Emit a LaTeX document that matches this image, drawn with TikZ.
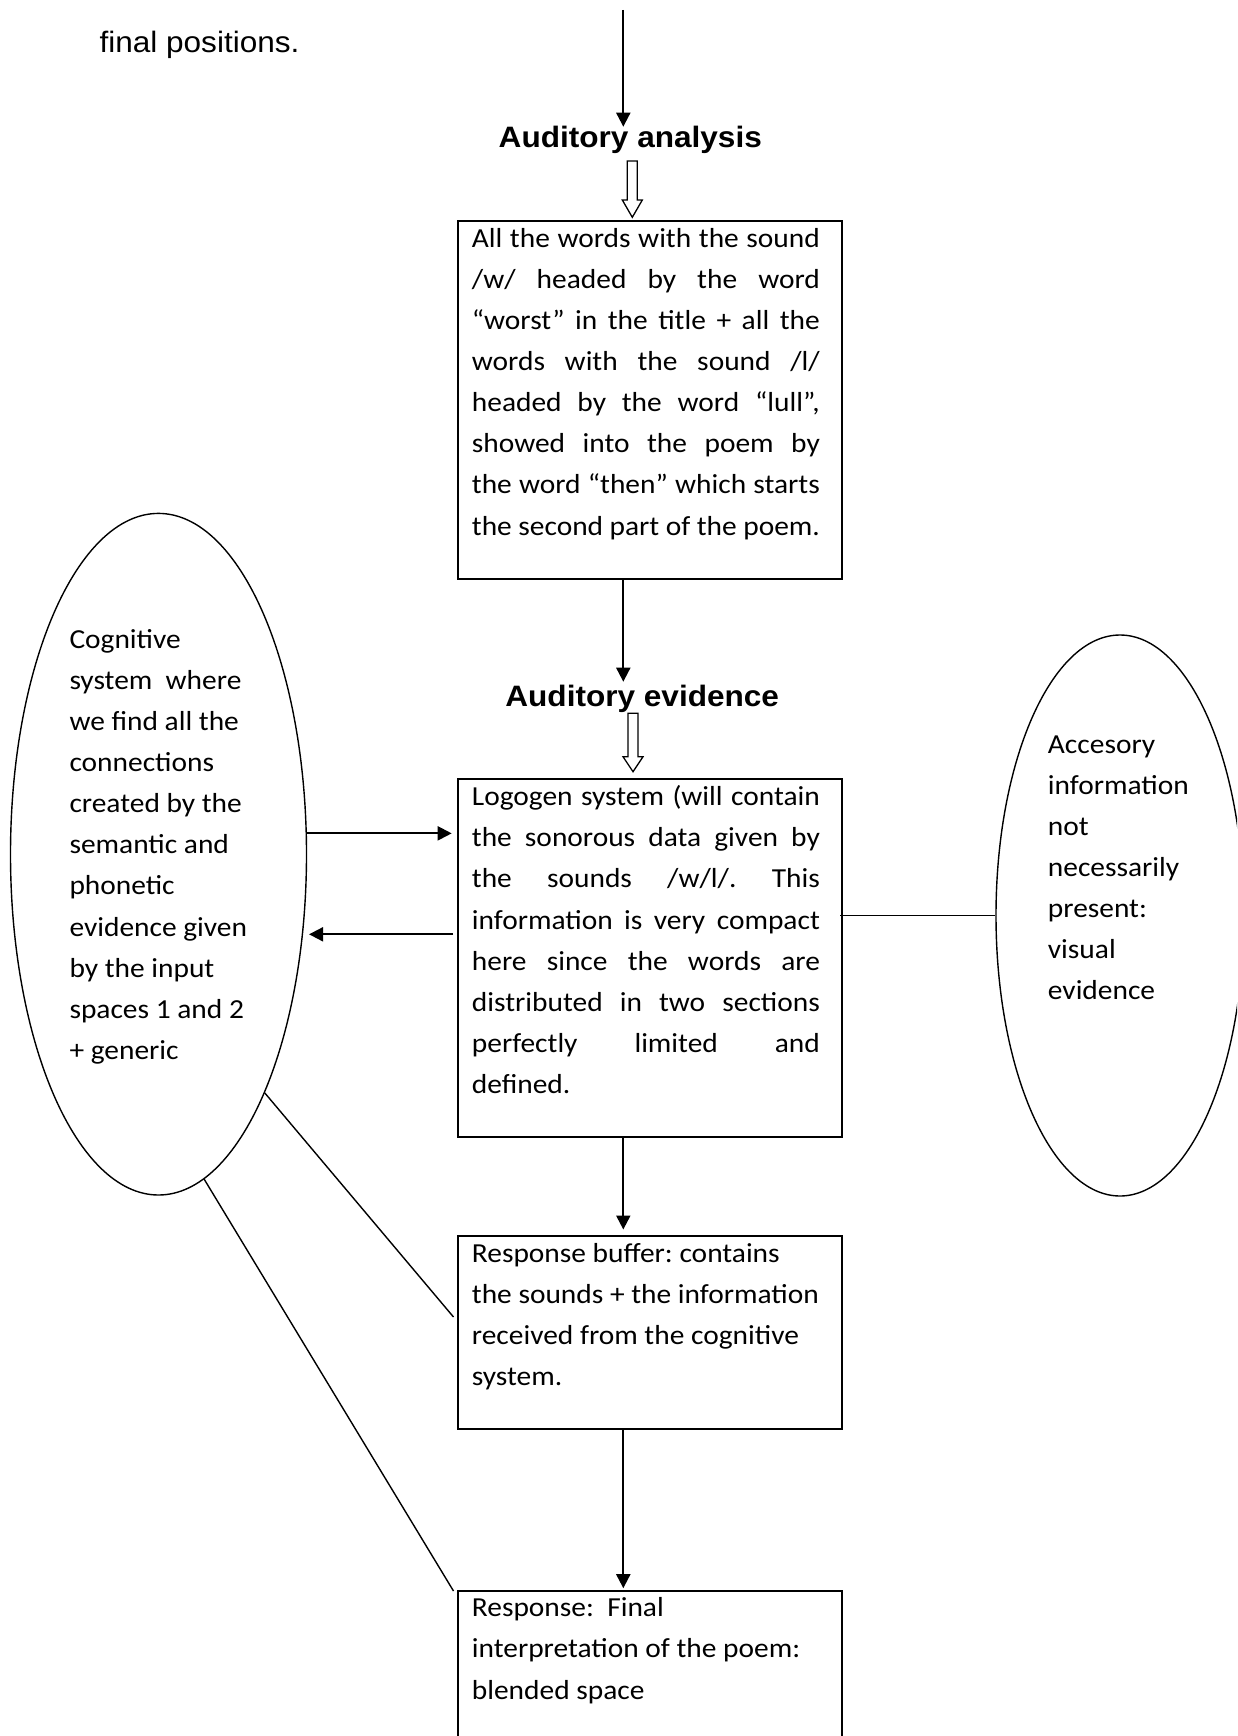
\documentclass[tikz,border=0pt]{standalone}
\usepackage{fontspec}
\setmainfont{Carlito}[FakeStretch=1.07]
\newfontfamily\arialfont{Liberation Sans}[FakeStretch=1.07]
\usetikzlibrary{arrows.meta,shapes.geometric,calc}

% width of the justified text inside the flow boxes
\newlength\jw
\setlength\jw{348pt}
\newcommand\jline[1]{\makebox[\jw][s]{#1}}
% the font's own interword spacing, no hyphenation
\newcommand\natsp{\frenchspacing\spaceskip=0pt\relax\xspaceskip=0pt\relax\hyphenpenalty=10000\relax}
\newcommand\boxfont{\fontsize{27.5pt}{41.1pt}\selectfont}
\newcommand\headfont{\arialfont\bfseries\fontsize{29.5pt}{36pt}\selectfont}
\newcommand\notefont{\arialfont\fontsize{29.5pt}{36pt}\selectfont}
% hollow block arrow pointing down: start point, shaft length, head length
\newcommand\hollowdown[3]{%
  \draw[hollow] (#1) ++(-5,0) -- ++(0,#2) -- ++(-5,0) -- ++(10,#3)
    -- ++(10,-#3) -- ++(-5,0) -- ++(0,-#2) -- cycle;}

\begin{document}
\begin{tikzpicture}[x=1pt, y=-1pt,
  stepbox/.style={draw, line width=2pt, rectangle, inner sep=0pt, minimum width=384.6pt},
  oval/.style={draw, line width=1.4pt, ellipse, inner sep=0pt},
  boxtext/.style={font=\boxfont, anchor=base west, inner sep=0pt, text width=#1, align=left},
  boxtext/.default=348pt,
  heading/.style={font=\headfont, anchor=base, inner sep=0pt},
  arr/.style={line width=2pt, -{Triangle[width=14pt,length=14pt]}},
  link/.style={line width=1.4pt},
  hollow/.style={line width=1.3pt, line join=miter}
]
\useasboundingbox (0,0) rectangle (1237,1736);
\fill[white] (0,0) rectangle (1237,1736);
\clip (0,0) rectangle (1237,1736);

% running text above the chart
\node[anchor=base west, inner sep=0pt, font=\notefont] (note) at (99.3,53) {final positions.};

% stage headings
\node[heading] (hA) at (630.3,148) {Auditory analysis};
\node[heading] (hE) at (642.2,706.7) {Auditory evidence};

% flow boxes
\node[stepbox, minimum height=358.3pt] (box1) at (650,399.85) {};
\node[stepbox, minimum height=357.4pt] (box2) at (650,958) {};
\node[stepbox, minimum height=192.5pt] (box3) at (650,1332.55) {};
\node[stepbox, minimum height=209.2pt] (box4) at (650,1695.4) {};

% side systems
\node[oval, minimum width=296pt, minimum height=681.6pt] (cog) at (158.5,854.2) {};
\node[oval, minimum width=248pt, minimum height=561pt] (acc) at (1120,915.5) {};

% box texts
\node[boxtext] (t1) at ($(box1.north west)+(15,27.6)$) {\natsp
\jline{All the words with the sound}\\
\jline{/w/ headed by the word}\\
\jline{“worst” in the title + all the}\\
\jline{words with the sound /l/}\\
\jline{headed by the word “lull”,}\\
\jline{showed into the poem by}\\
\jline{the word “then” which starts}\\
the second part of the poem.};

\node[boxtext] (t2) at ($(box2.north west)+(15,27.4)$) {\natsp
\jline{Logogen system (will contain}\\
\jline{the sonorous data given by}\\
\jline{the sounds /w/l/. This}\\
\jline{information is very compact}\\
\jline{here since the words are}\\
\jline{distributed in two sections}\\
\jline{perfectly limited and}\\
defined.};

\node[boxtext] (t3) at ($(box3.north west)+(15,27.1)$) {\natsp
Response buffer: contains\\
the sounds + the information\\
received from the cognitive\\
system.};

\node[boxtext] (t4) at ($(box4.north west)+(15,27)$) {\natsp
Response:\ \ Final\\
interpretation of the poem:\\
blended space};

\node[boxtext=240pt] (t5) at (69.3,648.3) {\natsp
Cognitive\\
system\ \ where\\
we find all the\\
connections\\
created by the\\
semantic and\\
phonetic\\
evidence given\\
by the input\\
spaces 1 and 2\\
+ generic};

\node[boxtext=200pt] (t6) at (1047.7,753) {\natsp
Accesory\\
information\\
not\\
necessarily\\
present:\\
visual\\
evidence};

% spine points
\coordinate (ax) at (623.3,0);
\coordinate (src) at (623.3,10);
\coordinate (aIn) at (623.3,126.7);
\coordinate (eIn) at (623.3,681.7);
\coordinate (h1) at (632.3,161);
\coordinate (h2) at (633,713.3);
\coordinate (b3in) at (453.5,1317);
\coordinate (b4in) at (453.5,1591);

% main flow
\draw[arr] (src) -- (aIn);
\hollowdown{h1}{39}{17.3}
\draw[arr] (box1.south -| ax) -- (eIn);
\hollowdown{h2}{43.4}{15}
\draw[arr, shorten >=5.8pt] (box2.south -| ax) -- (box3.north -| ax);
\draw[arr, shorten >=1.6pt] (box3.south -| ax) -- (box4.north -| ax);

% exchanges with the cognitive system
\draw[arr, shorten >=5pt] (cog.8) -- (cog.8 -| box2.west);
\draw[arr, shorten <=3.7pt, shorten >=6pt] (box2.west |- cog.-29) -- (cog.-29);
\draw[link] (cog.-66) -- (b3in);
\draw[link] (cog.-82) -- (b4in);

% accessory information
\draw[link, shorten <=-3pt] (acc.west -| box2.east) -- (acc.west);
\end{tikzpicture}
\end{document}
